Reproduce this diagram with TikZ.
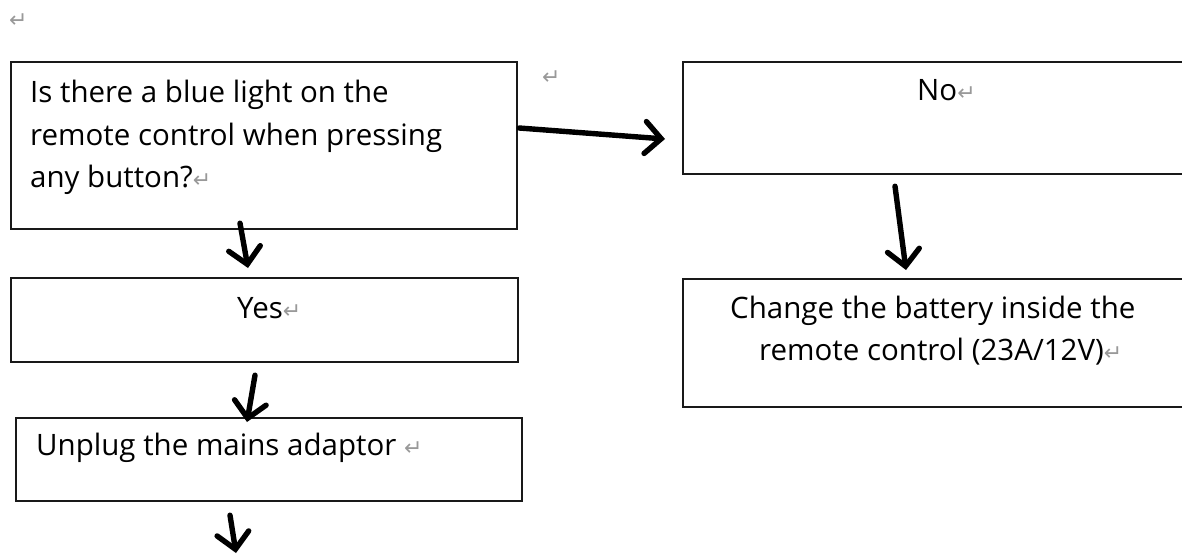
\documentclass[tikz,border=0pt]{standalone}
\usepackage{fontspec}
\setmainfont{Open Sans}
\newfontfamily\symfont{DejaVu Sans}
\usetikzlibrary{arrows.meta,calc}
\newcommand\retmark{{\symfont\color{black!40}\fontsize{22}{22}\selectfont ↵}}
\begin{document}
\begin{tikzpicture}[x=1pt,y=-1pt,
  frame/.style={draw=black!90, line width=2.2pt, inner sep=0pt, anchor=north west},
  txt/.style={anchor=base west, inner sep=0pt, text=black, font=\fontsize{29.5}{43}\selectfont},
  arr/.style={line width=5.4pt, line cap=round, -{Straight Barb[length=16pt,width=32pt,line cap=round]}}]
\useasboundingbox (0,0) rectangle (1182,555);
\clip (0,0) rectangle (1182,555);
% boxes
\node[frame, minimum width=506pt, minimum height=167pt] (q) at (10,61) {};
\node[frame, minimum width=507pt, minimum height=84pt] (yes) at (10,277) {};
\node[frame, minimum width=506pt, minimum height=83pt] (unplug) at (15,417) {};
\node[frame, minimum width=560pt, minimum height=112pt] (no) at (682,61) {};
\node[frame, minimum width=560pt, minimum height=128pt] (chg) at (682,278) {};
% texts
\node[txt] (m0) at (9,27) {\retmark};
\node[txt] (m1) at (542,84) {\retmark};
\node[txt] (q1) at (30,102) {Is there a blue light on the};
\node[txt] (q2) at (30,145) {remote control when pressing};
\node[txt] (q3) at (30,187) {any button?\retmark};
\node[txt] (tno) at (917,100) {No\retmark};
\node[txt] (tyes) at (237,318) {Yes\retmark};
\node[txt] (tun) at (36,455) {Unplug the mains adaptor \retmark};
\node[txt] (c1) at (730,318.5) {Change the battery inside the};
\node[txt] (c2) at (759,360) {remote control (23A/12V)\retmark};
% connectors
\coordinate (endpt) at (236,553);
\draw[arr] ($(q.south west)+(230,-7)$) -- ($(yes.north west)+(238,-9)$);
\draw[arr] ($(yes.south west)+(245,12)$) -- ($(unplug.north west)+(232,5)$);
\draw[arr] ($(unplug.south west)+(215,13)$) -- (endpt);
\draw[arr] ($(q.north east)+(1,67)$) -- ($(no.north west)+(-17,78)$);
\draw[arr] ($(no.south west)+(213,11)$) -- ($(chg.north west)+(224,-8)$);
\end{tikzpicture}
\end{document}
